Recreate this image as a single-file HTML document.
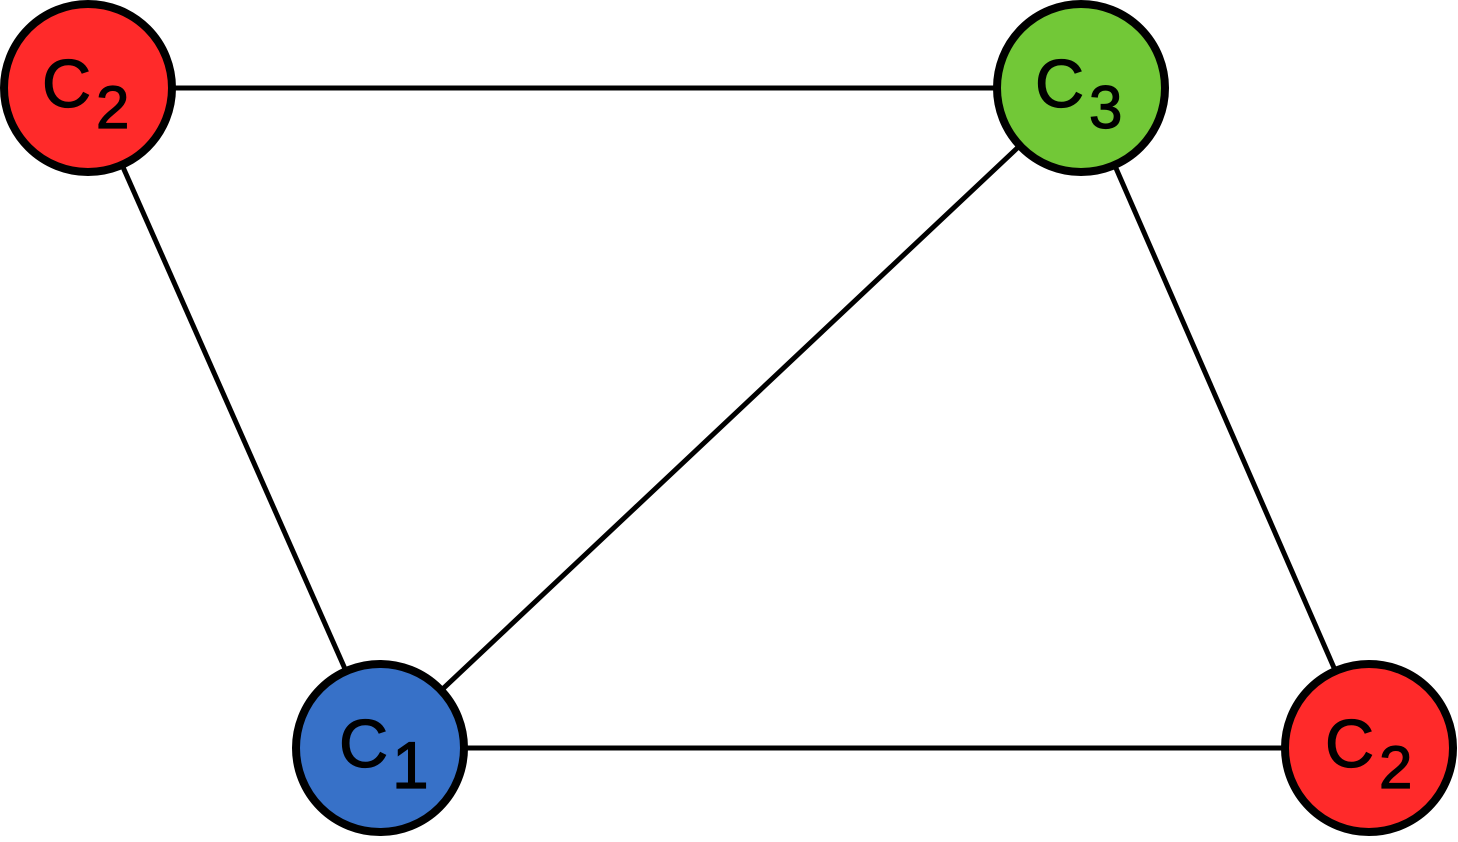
<!DOCTYPE html>
<html><head><meta charset="utf-8"><style>html,body{margin:0;padding:0;background:#fff}</style></head>
<body>
<svg width="1458" height="837" viewBox="0 0 1458 837" xmlns="http://www.w3.org/2000/svg" font-family="Liberation Sans, sans-serif">
<g stroke="#000" stroke-width="5">
<line x1="88" y1="88" x2="1081" y2="88"/>
<line x1="88" y1="88" x2="380" y2="748"/>
<line x1="1081" y1="88" x2="380" y2="748"/>
<line x1="1081" y1="88" x2="1369" y2="748"/>
<line x1="380" y1="748" x2="1369" y2="748"/>
</g>
<g stroke="#000" stroke-width="8">
<circle cx="88" cy="88" r="84" fill="#ff2a2a"/>
<circle cx="1081" cy="88" r="84" fill="#72c837"/>
<circle cx="380" cy="748" r="84" fill="#3771c8"/>
<circle cx="1369" cy="748" r="84" fill="#ff2a2a"/>
</g>
<g fill="#000" stroke="#000" stroke-width="1.2">
<text x="42" y="107" font-size="68">C</text><text x="96" y="128" font-size="60">2</text>
<text x="1035" y="107" font-size="68">C</text><text x="1089" y="128" font-size="60">3</text>
<text x="339" y="767" font-size="68">C</text><text x="392" y="788" font-size="66">1</text>
<text x="1325" y="767" font-size="68">C</text><text x="1379" y="788" font-size="60">2</text>
</g>
</svg>
</body></html>
